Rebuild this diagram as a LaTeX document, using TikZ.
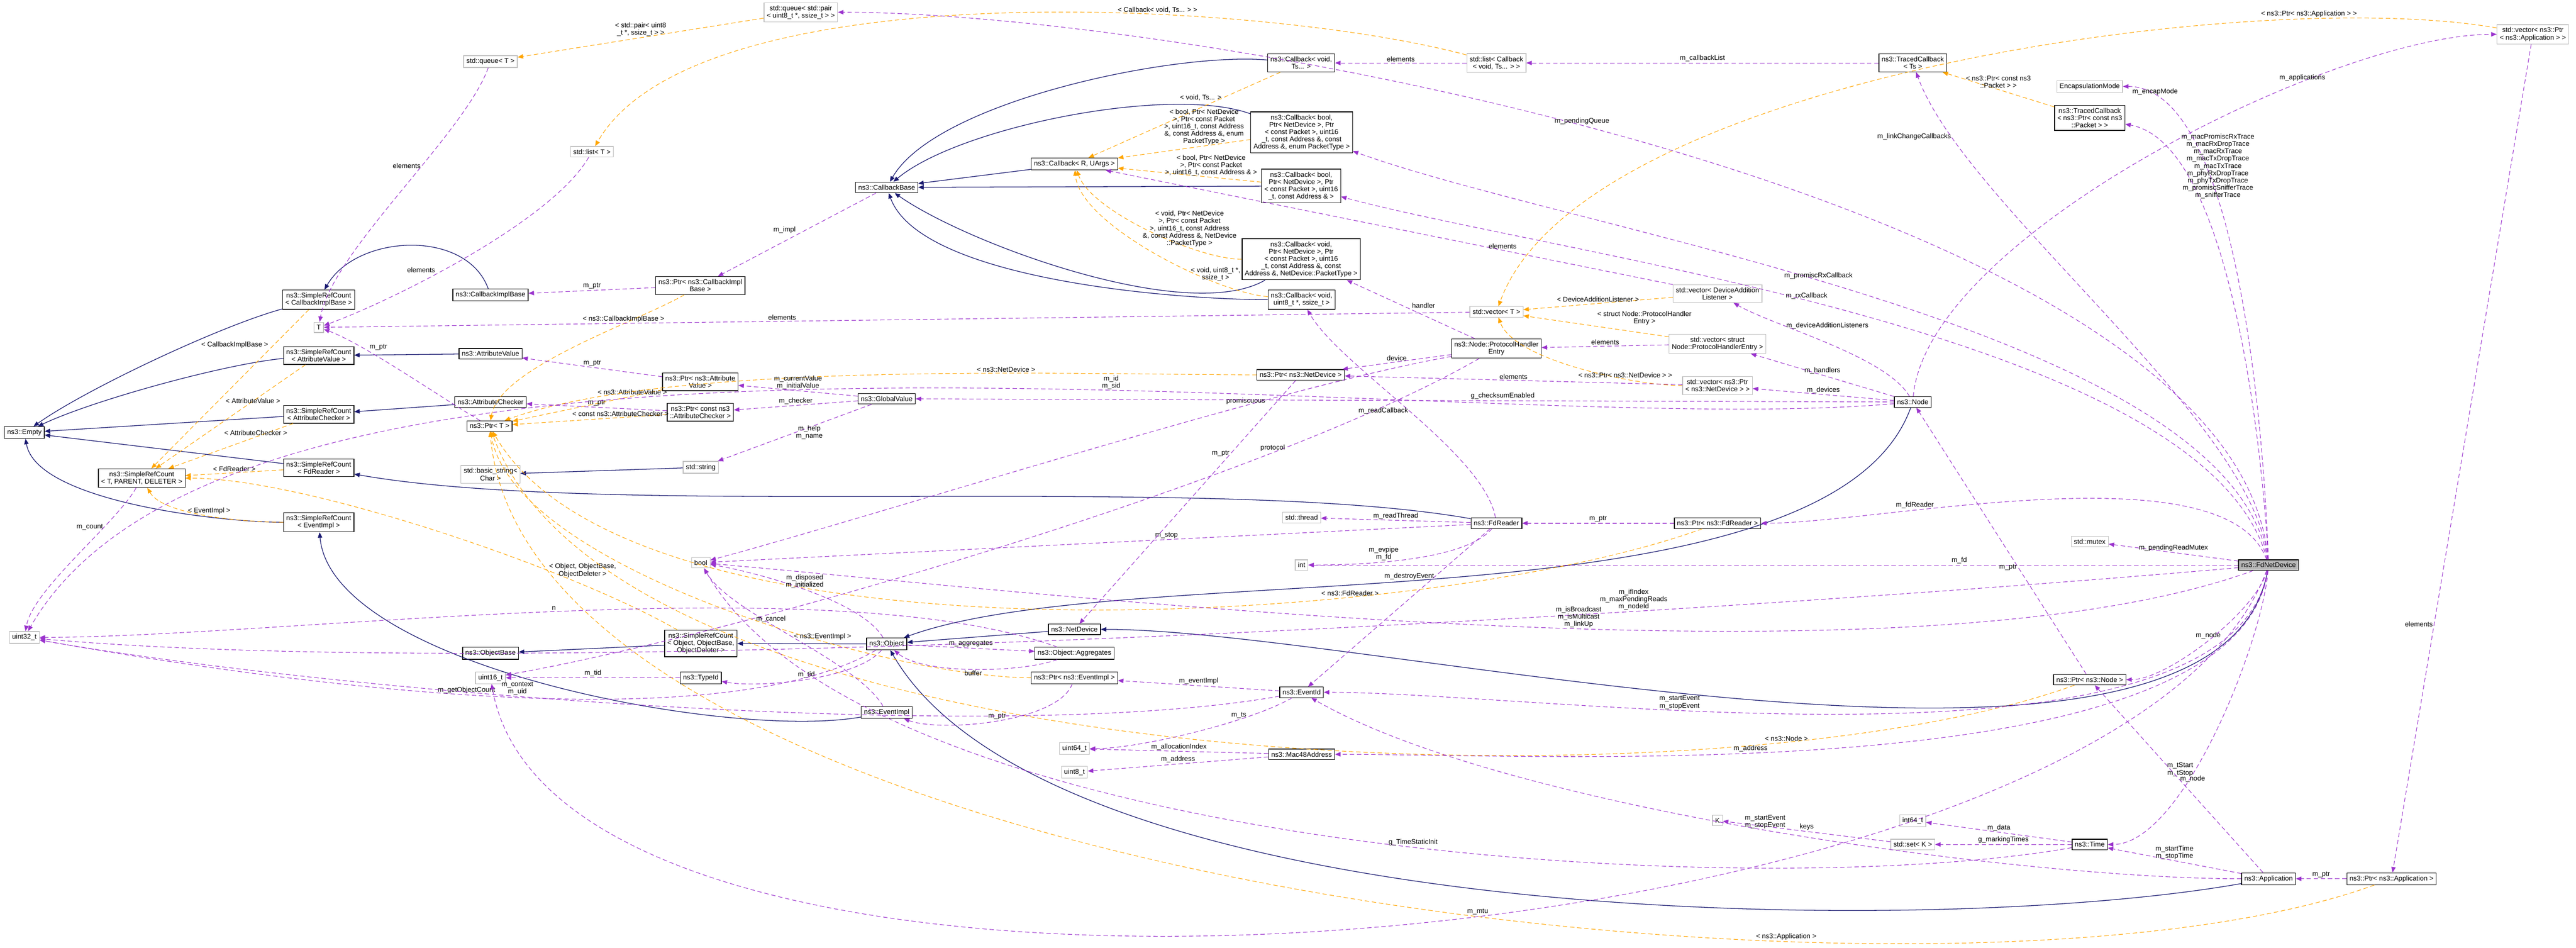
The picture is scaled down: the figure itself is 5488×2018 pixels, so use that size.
\documentclass[tikz,border=0pt]{standalone}
\usepackage{fontspec}
\setmainfont{Liberation Sans}
\usetikzlibrary{arrows.meta}
\definecolor{inhclr}{HTML}{191970}
\definecolor{useclr}{HTML}{9A32CD}
\definecolor{tplclr}{HTML}{FFA500}
\tikzset{
  cls/.style={draw=black, fill=white, align=center, inner sep=0.5pt, line width=0.12pt, font=\fontsize{1.25}{1.33}\selectfont},
  ext/.style={cls, draw=black!25},
  hit/.style={cls, fill=black!28},
  inh/.style={draw=inhclr, line width=0.12pt, looseness=0.6, -{Triangle[length=1pt,width=0.8pt]}},
  use/.style={draw=useclr, line width=0.1pt, looseness=0.6, dash pattern=on 0.8pt off 0.5pt, -{Triangle[length=1pt,width=0.8pt]}},
  tpl/.style={use, draw=tplclr},
  lbl/.style={midway, align=center, font=\fontsize{1.25}{1.33}\selectfont, inner sep=0.2pt}
}
\begin{document}
\begin{tikzpicture}[x=0.003cm, y=-0.003cm]
\useasboundingbox (0,0) rectangle (5488,2018);

\node [cls] (empty) at (52,921) {ns3::Empty};
\node [ext] (queueT) at (1045,131) {std::queue< T >};
\node [ext] (listT) at (1261,323) {std::list< T >};
\node [cls] (srcCIB) at (679,638) {ns3::SimpleRefCount\\< CallbackImplBase >};
\node [cls] (cib) at (1045,628) {ns3::CallbackImplBase};
\node [ext] (T) at (679,697) {T};
\node [cls] (srcAV) at (679,757) {ns3::SimpleRefCount\\< AttributeValue >};
\node [cls] (av) at (1045,753) {ns3::AttributeValue};
\node [cls] (ac) at (1045,856) {ns3::AttributeChecker};
\node [cls] (srcAC) at (679,882) {ns3::SimpleRefCount\\< AttributeChecker >};
\node [cls] (ptrT) at (1043,907) {ns3::Ptr< T >};
\node [cls] (srcFd) at (679,996) {ns3::SimpleRefCount\\< FdReader >};
\node [cls] (srcTPD) at (302,1018) {ns3::SimpleRefCount\\< T, PARENT, DELETER >};
\node [ext] (basicStr) at (1045,1010) {std::basic\_string<\\Char >};
\node [cls] (srcEvImpl) at (679,1112) {ns3::SimpleRefCount\\< EventImpl >};
\node [ext] (uint32) at (52,1357) {uint32\_t};
\node [cls] (objBase) at (1045,1391) {ns3::ObjectBase};
\node [ext] (uint16) at (1045,1443) {uint16\_t};

\node [ext] (queuePair) at (1706,26) {std::queue< std::pair\\< uint8\_t *, ssize\_t > >};
\node [cls] (cbVoidTs) at (2772,134) {ns3::Callback< void,\\ Ts... >};
\node [cls] (cbBool5) at (2773,282) {ns3::Callback< bool,\\ Ptr< NetDevice >, Ptr\\< const Packet >, uint16\\\_t, const Address \&, const\\ Address \&, enum PacketType >};
\node [cls] (cbBool4) at (2772,396) {ns3::Callback< bool,\\ Ptr< NetDevice >, Ptr\\< const Packet >, uint16\\\_t, const Address \& >};
\node [cls] (cbVoid6) at (2772,552) {ns3::Callback< void,\\ Ptr< NetDevice >, Ptr\\< const Packet >, uint16\\\_t, const Address \&, const\\ Address \&, NetDevice::PacketType >};
\node [cls] (cbVoidU8) at (2773,638) {ns3::Callback< void,\\ uint8\_t *, ssize\_t >};
\node [cls] (cbRU) at (2289,349) {ns3::Callback< R, UArgs >};
\node [cls] (cbBase) at (1889,399) {ns3::CallbackBase};
\node [cls] (ptrCIB) at (1492,608) {ns3::Ptr< ns3::CallbackImpl\\Base >};
\node [cls] (ptrAV) at (1492,813) {ns3::Ptr< ns3::Attribute\\Value >};
\node [cls] (globalVal) at (1889,849) {ns3::GlobalValue};
\node [cls] (ptrAC) at (1492,878) {ns3::Ptr< const ns3\\::AttributeChecker >};
\node [ext] (stdString) at (1493,995) {std::string};
\node [cls] (ptrND) at (2771,798) {ns3::Ptr< ns3::NetDevice >};

\node [ext] (listCb) at (3188,134) {std::list< Callback\\< void, Ts... > >};
\node [cls] (tracedTs) at (4075,134) {ns3::TracedCallback\\< Ts >};
\node [ext] (vecDAL) at (3659,625) {std::vector< DeviceAddition\\Listener >};
\node [ext] (vecT) at (3188,664) {std::vector< T >};
\node [cls] (protoEntry) at (3188,742) {ns3::Node::ProtocolHandler\\Entry};
\node [ext] (vecPHE) at (3659,732) {std::vector< struct\\ Node::ProtocolHandlerEntry >};
\node [ext] (vecPtrND) at (3659,821) {std::vector< ns3::Ptr\\< ns3::NetDevice > >};
\node [cls] (node) at (4075,856) {ns3::Node};
\node [ext] (encap) at (4452,184) {EncapsulationMode};
\node [cls] (tracedPkt) at (4452,251) {ns3::TracedCallback\\< ns3::Ptr< const ns3\\::Packet > >};
\node [ext] (vecApp) at (5396,73) {std::vector< ns3::Ptr\\< ns3::Application > >};

\node [ext] (bool) at (1493,1198) {bool};
\node [cls] (srcObj) at (1493,1370) {ns3::SimpleRefCount\\< Object, ObjectBase,\\ ObjectDeleter >};
\node [cls] (object) at (1889,1371) {ns3::Object};
\node [cls] (netDev) at (2289,1340) {ns3::NetDevice};
\node [cls] (aggr) at (2289,1391) {ns3::Object::Aggregates};
\node [cls] (typeId) at (1493,1443) {ns3::TypeId};
\node [cls] (ptrEvImpl) at (2289,1443) {ns3::Ptr< ns3::EventImpl >};
\node [cls] (evImpl) at (1889,1517) {ns3::EventImpl};
\node [ext] (uint64) at (2289,1594) {uint64\_t};
\node [ext] (uint8) at (2289,1644) {uint8\_t};
\node [cls] (eventId) at (2773,1474) {ns3::EventId};
\node [cls] (mac48) at (2773,1606) {ns3::Mac48Address};
\node [ext] (stdThread) at (2773,1102) {std::thread};
\node [ext] (int) at (2773,1203) {int};

\node [cls] (fdReader) at (3188,1114) {ns3::FdReader};
\node [cls] (ptrFdR) at (3659,1114) {ns3::Ptr< ns3::FdReader >};
\node [ext] (K) at (3659,1747) {K};
\node [ext] (int64) at (4075,1747) {int64\_t};
\node [ext] (setK) at (4075,1798) {std::set< K >};

\node [hit] (fdNetDev) at (4833,1203) {ns3::FdNetDevice};
\node [ext] (mutex) at (4452,1153) {std::mutex};
\node [cls] (ptrNode) at (4452,1447) {ns3::Ptr< ns3::Node >};
\node [cls] (time) at (4452,1798) {ns3::Time};
\node [cls] (app) at (4833,1871) {ns3::Application};
\node [cls] (ptrApp) at (5095,1871) {ns3::Ptr< ns3::Application >};

% inheritance
\draw [inh] (srcCIB) to[bend right=10] (empty);
\draw [inh] (srcAV) to[bend right=10] (empty);
\draw [inh] (srcAC) -- (empty);
\draw [inh] (srcFd) -- (empty);
\draw [inh] (srcEvImpl) to[out=180, in=-80] (empty);
\draw [inh] (cib) to[out=110, in=60, looseness=1] (srcCIB);
\draw [inh] (av) -- (srcAV);
\draw [inh] (ac) -- (srcAC);
\draw [inh] (fdReader) to[out=170, in=-10] (srcFd);
\draw [inh] (stdString) -- (basicStr);
\draw [inh] (evImpl) to[out=190, in=-85] (srcEvImpl);
\draw [inh] (object) -- (srcObj);
\draw [inh] (srcObj) -- (objBase);
\draw [inh] (cbVoidTs) to[out=175, in=60] (cbBase);
\draw [inh] (cbBool5) to[out=160, in=40] (cbBase);
\draw [inh] (cbBool4) -- (cbBase);
\draw [inh] (cbVoid6) to[out=-150, in=-35] (cbBase);
\draw [inh] (cbVoidU8) to[out=180, in=-70] (cbBase);
\draw [inh] (cbRU) -- (cbBase);
\draw [inh] (netDev) -- (object);
\draw [inh] (fdNetDev) to[out=-100, in=0] (netDev);
\draw [inh] (node) to[out=-110, in=20] (object);
\draw [inh] (app) to[out=190, in=-60] (object);

% templates
\draw [tpl] (srcCIB) -- node [lbl, pos=0.25, above left] {< CallbackImplBase >} (srcTPD);
\draw [tpl] (srcAV) -- node [lbl, pos=0.35] {< AttributeValue >} (srcTPD);
\draw [tpl] (srcAC) -- node [lbl, pos=0.3, above] {< AttributeChecker >} (srcTPD);
\draw [tpl] (srcFd) -- node [lbl, above] {< FdReader >} (srcTPD);
\draw [tpl] (srcEvImpl) to[out=180, in=-60] node [lbl, above] {< EventImpl >} (srcTPD);
\draw [tpl] (srcObj) to[out=150, in=0] node [lbl, pos=0.3, right] {< Object, ObjectBase,\\ ObjectDeleter >} (srcTPD);
\draw [tpl] (queuePair) -- node [lbl, above] {< std::pair< uint8\\\_t *, ssize\_t > >} (queueT);
\draw [tpl] (listCb) to[out=165, in=60] node [lbl, pos=0.35, above] {< Callback< void, Ts... > >} (listT);
\draw [tpl] (cbVoidTs) -- node [lbl, pos=0.3, left] {< void, Ts... >} (cbRU);
\draw [tpl] (cbBool5) -- node [lbl, pos=0.35, above] {< bool, Ptr< NetDevice\\ >, Ptr< const Packet\\ >, uint16\_t, const Address\\ \&, const Address \&, enum\\ PacketType >} (cbRU);
\draw [tpl] (cbBool4) -- node [lbl, pos=0.35, above] {< bool, Ptr< NetDevice\\ >, Ptr< const Packet\\ >, uint16\_t, const Address \& >} (cbRU);
\draw [tpl] (cbVoid6) to[out=180, in=-70] node [lbl, pos=0.3, above] {< void, Ptr< NetDevice\\ >, Ptr< const Packet\\ >, uint16\_t, const Address\\ \&, const Address \&, NetDevice\\ ::PacketType >} (cbRU);
\draw [tpl] (cbVoidU8) to[out=175, in=-85] node [lbl, pos=0.25, above] {< void, uint8\_t *,\\ ssize\_t >} (cbRU);
\draw [tpl] (ptrCIB) to[out=-150, in=80] node [lbl, pos=0.3, above] {< ns3::CallbackImplBase >} (ptrT);
\draw [tpl] (ptrAV) -- node [lbl, pos=0.2, above] {< ns3::AttributeValue >} (ptrT);
\draw [tpl] (ptrAC) -- node [lbl, pos=0.3, above] {< const ns3::AttributeChecker >} (ptrT);
\draw [tpl] (ptrND) to[out=180, in=20] node [lbl, pos=0.35, above] {< ns3::NetDevice >} (ptrT);
\draw [tpl] (ptrEvImpl) to[out=180, in=-80] node [lbl, pos=0.35, above] {< ns3::EventImpl >} (ptrT);
\draw [tpl] (ptrFdR) to[out=200, in=-60] node [lbl, pos=0.3, above] {< ns3::FdReader >} (ptrT);
\draw [tpl] (ptrNode) to[out=200, in=-70] node [lbl, pos=0.2, above] {< ns3::Node >} (ptrT);
\draw [tpl] (ptrApp) to[out=200, in=-85] node [lbl, pos=0.3, above] {< ns3::Application >} (ptrT);
\draw [tpl] (vecDAL) -- node [lbl, above] {< DeviceAdditionListener >} (vecT);
\draw [tpl] (vecPHE) -- node [lbl, above right] {< struct Node::ProtocolHandler\\Entry >} (vecT);
\draw [tpl] (vecPtrND) to[out=180, in=-70] node [lbl, pos=0.3, above] {< ns3::Ptr< ns3::NetDevice > >} (vecT);
\draw [tpl] (vecApp) to[out=170, in=70] node [lbl, pos=0.2, above] {< ns3::Ptr< ns3::Application > >} (vecT);
\draw [tpl] (tracedPkt) -- node [lbl, above] {< ns3::Ptr< const ns3\\::Packet > >} (tracedTs);

% members
\draw [use] (queueT) to[out=-110, in=80] node [lbl, pos=0.4, left] {elements} (T);
\draw [use] (listT) to[out=-120, in=20] node [lbl, pos=0.6, above left] {elements} (T);
\draw [use] (vecT) -- node [lbl, pos=0.6, above] {elements} (T);
\draw [use] (ptrT) to[out=150, in=-20] node [lbl, pos=0.7, above right] {m\_ptr} (T);
\draw [use] (ptrCIB) -- node [lbl, above] {m\_ptr} (cib);
\draw [use] (ptrAV) -- node [lbl, above] {m\_ptr} (av);
\draw [use] (ptrAC) -- node [lbl, above] {m\_ptr} (ac);
\draw [use] (cbBase) -- node [lbl, above left] {m\_impl} (ptrCIB);
\draw [use] (globalVal) -- node [lbl, above] {m\_currentValue\\m\_initialValue} (ptrAV);
\draw [use] (globalVal) -- node [lbl, above] {m\_checker} (ptrAC);
\draw [use] (globalVal) -- node [lbl, right] {m\_help\\m\_name} (stdString);
\draw [use] (srcTPD) to[out=-120, in=80] node [lbl, pos=0.3, left] {m\_count} (uint32);
\draw [use] (listCb) -- node [lbl, above] {elements} (cbVoidTs);
\draw [use] (tracedTs) -- node [lbl, above] {m\_callbackList} (listCb);
\draw [use] (vecDAL) -- node [lbl, pos=0.3, above] {elements} (cbRU);
\draw [use] (protoEntry) -- node [lbl, above right] {handler} (cbVoid6);
\draw [use] (protoEntry) -- node [lbl, above] {device} (ptrND);
\draw [use] (protoEntry) to[out=-150, in=10] node [lbl, pos=0.25, above] {protocol} (uint16);
\draw [use] (protoEntry) to[out=-170, in=15] node [lbl, pos=0.3, above] {promiscuous} (bool);
\draw [use] (vecPHE) -- node [lbl, above] {elements} (protoEntry);
\draw [use] (vecPtrND) -- node [lbl, above] {elements} (ptrND);
\draw [use] (node) to[out=120, in=-30] node [lbl, pos=0.7, right] {m\_deviceAdditionListeners} (vecDAL);
\draw [use] (node) -- node [lbl, above] {m\_handlers} (vecPHE);
\draw [use] (node) -- node [lbl, above] {m\_devices} (vecPtrND);
\draw [use] (node) -- node [lbl, pos=0.4, above] {g\_checksumEnabled} (globalVal);
\draw [use] (node) to[out=185, in=60] node [lbl, pos=0.4, above] {m\_id\\m\_sid} (uint32);
\draw [use] (node) to[out=85, in=180] node [lbl, pos=0.7, above] {m\_applications} (vecApp);
\draw [use] (fdReader) to[out=100, in=-60] node [lbl, pos=0.5, left] {m\_readCallback} (cbVoidU8);
\draw [use] (fdReader) -- node [lbl, above] {m\_readThread} (stdThread);
\draw [use] (fdReader) -- node [lbl, pos=0.4, above] {m\_stop} (bool);
\draw [use] (fdReader) to[out=-130, in=0] node [lbl, pos=0.6, above] {m\_evpipe\\m\_fd} (int);
\draw [use] (fdReader) -- node [lbl, pos=0.3, left] {m\_destroyEvent} (eventId);
\draw [use] (ptrFdR) -- node [lbl, above] {m\_ptr} (fdReader);
\draw [use] (ptrND) -- node [lbl, pos=0.3, left] {m\_ptr} (netDev);
\draw [use] (object) -- node [lbl, above] {m\_aggregates} (aggr);
\draw [use] (aggr) to[out=-160, in=-40] node [lbl, below] {buffer} (object);
\draw [use] (aggr) to[out=160, in=0] node [lbl, pos=0.5, above] {n} (uint32);
\draw [use] (object) to[out=120, in=-10] node [lbl, above] {m\_disposed\\m\_initialized} (bool);
\draw [use] (object) to[out=-130, in=-10] node [lbl, above] {m\_tid} (typeId);
\draw [use] (typeId) -- node [lbl, above] {m\_tid} (uint16);
\draw [use] (object) to[out=-150, in=-10] node [lbl, pos=0.5, above] {m\_getObjectCount} (uint32);
\draw [use] (ptrEvImpl) to[out=-110, in=-20] node [lbl, above] {m\_ptr} (evImpl);
\draw [use] (evImpl) to[out=120, in=-60] node [lbl, pos=0.6, above] {m\_cancel} (bool);
\draw [use] (eventId) -- node [lbl, above] {m\_eventImpl} (ptrEvImpl);
\draw [use] (eventId) to[out=-150, in=0] node [lbl, pos=0.3, above] {m\_ts} (uint64);
\draw [use] (eventId) to[out=-170, in=-10] node [lbl, pos=0.6, above] {m\_context\\m\_uid} (uint32);
\draw [use] (mac48) -- node [lbl, above] {m\_allocationIndex} (uint64);
\draw [use] (mac48) -- node [lbl, above] {m\_address} (uint8);

\draw [use] (fdNetDev) to[out=-175, in=-5] node [lbl, pos=0.3, above] {m\_ifIndex\\m\_maxPendingReads\\m\_nodeId} (uint32);
\draw [use] (fdNetDev) to[out=-110, in=-80] node [lbl, pos=0.45, above] {m\_mtu} (uint16);
\draw [use] (fdNetDev) to[out=-160, in=-5] node [lbl, pos=0.45, above] {m\_isBroadcast\\m\_isMulticast\\m\_linkUp} (bool);
\draw [use] (fdNetDev) -- node [lbl, pos=0.3, above] {m\_fd} (int);
\draw [use] (fdNetDev) to[out=110, in=0] node [lbl, pos=0.7, above] {m\_fdReader} (ptrFdR);
\draw [use] (fdNetDev) -- node [lbl, above] {m\_pendingReadMutex} (mutex);
\draw [use] (fdNetDev) to[out=95, in=0] node [lbl, pos=0.55, above] {m\_pendingQueue} (queuePair);
\draw [use] (fdNetDev) to[out=92, in=0] node [lbl, pos=0.9, above] {m\_encapMode} (encap);
\draw [use] (fdNetDev) to[out=93, in=-10] node [lbl, pos=0.8, right] {m\_macPromiscRxTrace\\m\_macRxDropTrace\\m\_macRxTrace\\m\_macTxDropTrace\\m\_macTxTrace\\m\_phyRxDropTrace\\m\_phyTxDropTrace\\m\_promiscSnifferTrace\\m\_snifferTrace} (tracedPkt);
\draw [use] (fdNetDev) to[out=96, in=-70] node [lbl, pos=0.85, left] {m\_linkChangeCallbacks} (tracedTs);
\draw [use] (fdNetDev) to[out=100, in=-20] node [lbl, pos=0.55, above] {m\_promiscRxCallback} (cbBool5);
\draw [use] (fdNetDev) to[out=105, in=-15] node [lbl, pos=0.55, above] {m\_rxCallback} (cbBool4);
\draw [use] (fdNetDev) to[out=-105, in=0] node [lbl, pos=0.5, above] {m\_node} (ptrNode);
\draw [use] (fdNetDev) to[out=-100, in=0] node [lbl, pos=0.65, above] {m\_startEvent\\m\_stopEvent} (eventId);
\draw [use] (fdNetDev) to[out=-98, in=0] node [lbl, pos=0.6, above] {m\_address} (mac48);
\draw [use] (fdNetDev) to[out=-95, in=0] node [lbl, pos=0.6, left] {m\_tStart\\m\_tStop} (time);
\draw [use] (ptrNode) -- node [lbl, pos=0.4, left] {m\_ptr} (node);
\draw [use] (app) -- node [lbl, pos=0.5, right] {m\_node} (ptrNode);
\draw [use] (time) -- node [lbl, above] {m\_data} (int64);
\draw [use] (time) -- node [lbl, above] {g\_markingTimes} (setK);
\draw [use] (time) to[out=190, in=-60] node [lbl, pos=0.45, above] {g\_TimeStaticInit} (bool);
\draw [use] (setK) -- node [lbl, above] {keys} (K);
\draw [use] (app) -- node [lbl, above] {m\_startTime\\m\_stopTime} (time);
\draw [use] (app) to[out=180, in=-30] node [lbl, pos=0.5, above] {m\_startEvent\\m\_stopEvent} (eventId);
\draw [use] (ptrApp) -- node [lbl, above] {m\_ptr} (app);
\draw [use] (vecApp) -- node [lbl, pos=0.7, left] {elements} (ptrApp);
\end{tikzpicture}
\end{document}
